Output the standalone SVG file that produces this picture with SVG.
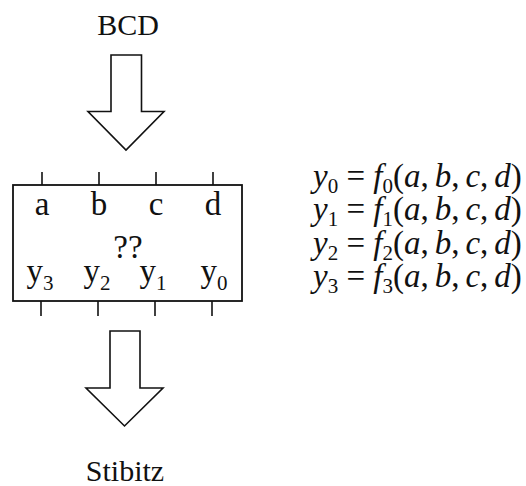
<svg xmlns="http://www.w3.org/2000/svg" width="526" height="486" viewBox="0 0 526 486">
<style>
text{font-family:"Liberation Serif","Times New Roman",serif;fill:#111}
.lbl{font-size:30px;text-anchor:middle}
.bx{font-size:33px;text-anchor:middle}
.eq{font-size:33px}
.it{font-style:italic}
.sub{font-size:21px}
.arrow{fill:#fff;stroke:#111;stroke-width:1.6;stroke-linejoin:miter}
.box{fill:#fff;stroke:#111;stroke-width:1.8}
.tick{stroke:#111;stroke-width:1.6}
</style>
<rect width="526" height="486" fill="#fff"/>
<g id="bcd-label"><text class="lbl" x="128" y="35">BCD</text></g>
<g id="connectors">
<polygon id="arrow-in" class="arrow" points="111,55 141.5,55 141.5,111.5 164,111.5 126,150 88,111.5 111,111.5"/>
<polygon id="arrow-out" class="arrow" points="110,331 140,331 140,388 163,388 124.5,426 86,388 110,388"/>
<g id="ticks">
<line class="tick" x1="42" y1="172" x2="42" y2="185"/>
<line class="tick" x1="99" y1="172" x2="99" y2="185"/>
<line class="tick" x1="156" y1="172" x2="156" y2="185"/>
<line class="tick" x1="213" y1="172" x2="213" y2="185"/>
<line class="tick" x1="41" y1="301" x2="41" y2="316"/>
<line class="tick" x1="98" y1="301" x2="98" y2="316"/>
<line class="tick" x1="155" y1="301" x2="155" y2="316"/>
<line class="tick" x1="212" y1="301" x2="212" y2="316"/>
</g>
</g>
<g id="box">
<rect class="box" x="13" y="185" width="229" height="116"/>
<text class="bx" x="42" y="215">a</text>
<text class="bx" x="99" y="215">b</text>
<text class="bx" x="156" y="215">c</text>
<text class="bx" x="213" y="215">d</text>
<text class="bx" x="128" y="258">??</text>
<text class="bx" x="40" y="282">y<tspan class="sub" dy="8">3</tspan></text>
<text class="bx" x="97" y="282">y<tspan class="sub" dy="8">2</tspan></text>
<text class="bx" x="153" y="282">y<tspan class="sub" dy="8">1</tspan></text>
<text class="bx" x="214" y="282">y<tspan class="sub" dy="8">0</tspan></text>
</g>
<g id="equations">
<text class="eq" x="313" y="187"><tspan class="it">y</tspan><tspan class="sub" dy="6">0</tspan><tspan dy="-6"> = </tspan><tspan class="it">f</tspan><tspan class="sub" dy="6">0</tspan><tspan dy="-6">(</tspan><tspan class="it">a</tspan>,<tspan class="it" dx="6">b</tspan>,<tspan class="it" dx="6">c</tspan>,<tspan class="it" dx="6">d</tspan>)</text>
<text class="eq" x="313" y="220"><tspan class="it">y</tspan><tspan class="sub" dy="6">1</tspan><tspan dy="-6"> = </tspan><tspan class="it">f</tspan><tspan class="sub" dy="6">1</tspan><tspan dy="-6">(</tspan><tspan class="it">a</tspan>,<tspan class="it" dx="6">b</tspan>,<tspan class="it" dx="6">c</tspan>,<tspan class="it" dx="6">d</tspan>)</text>
<text class="eq" x="313" y="254"><tspan class="it">y</tspan><tspan class="sub" dy="6">2</tspan><tspan dy="-6"> = </tspan><tspan class="it">f</tspan><tspan class="sub" dy="6">2</tspan><tspan dy="-6">(</tspan><tspan class="it">a</tspan>,<tspan class="it" dx="6">b</tspan>,<tspan class="it" dx="6">c</tspan>,<tspan class="it" dx="6">d</tspan>)</text>
<text class="eq" x="313" y="287"><tspan class="it">y</tspan><tspan class="sub" dy="6">3</tspan><tspan dy="-6"> = </tspan><tspan class="it">f</tspan><tspan class="sub" dy="6">3</tspan><tspan dy="-6">(</tspan><tspan class="it">a</tspan>,<tspan class="it" dx="6">b</tspan>,<tspan class="it" dx="6">c</tspan>,<tspan class="it" dx="6">d</tspan>)</text>
</g>
<g id="stibitz-label"><text class="lbl" x="125" y="481">Stibitz</text></g>
</svg>
